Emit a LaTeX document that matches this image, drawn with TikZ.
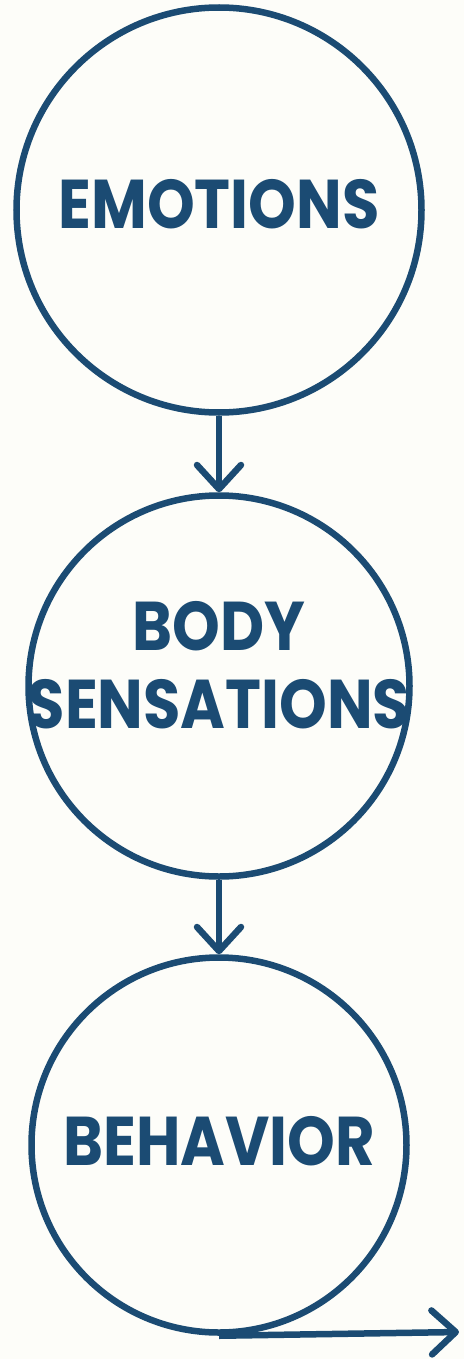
\documentclass[tikz,border=0pt]{standalone}
\usepackage{fontspec}
\setmainfont{Poppins}[FakeStretch=0.88]
\usetikzlibrary{arrows.meta}
\definecolor{inkblue}{HTML}{1B4B73}
\definecolor{paper}{HTML}{FDFDF9}
\begin{document}
\begin{tikzpicture}[x=1pt, y=-1pt,
    stage/.style={circle, draw=inkblue, line width=6.5pt, inner sep=0pt},
    stagetext/.style={text=inkblue, align=center, inner sep=0pt,
      font=\fontsize{69}{78}\selectfont\bfseries},
    flow/.style={draw=inkblue, line width=6.5pt,
      -{Straight Barb[length=24pt, width=44pt, line cap=round, line join=round]}}]
  \fill[paper] (0,0) rectangle (464,1359);
  \useasboundingbox (0,0) rectangle (464,1359);
  % circles
  \node[stage, minimum size=405pt] (emotions) at (219,210) {};
  \node[stage, minimum size=381pt] (body) at (219,686) {};
  \node[stage, minimum size=375pt] (behavior) at (219,1145) {};
  % labels
  \node[stagetext] (emotionslabel) at ([yshift=6pt]emotions.center) {EMOTIONS};
  \node[stagetext] (bodylabel) at ([yshift=21pt]body.center) {BODY\\SENSATIONS};
  \node[stagetext] (behaviorlabel) at ([yshift=4pt]behavior.center) {BEHAVIOR};
  % arrows
  \coordinate (exit) at (459,1332);
  \draw[flow] (emotions.south) -- (body.north);
  \draw[flow] (body.south) -- (behavior.north);
  \draw[flow] (behavior.south) -- (exit);
\end{tikzpicture}
\end{document}
